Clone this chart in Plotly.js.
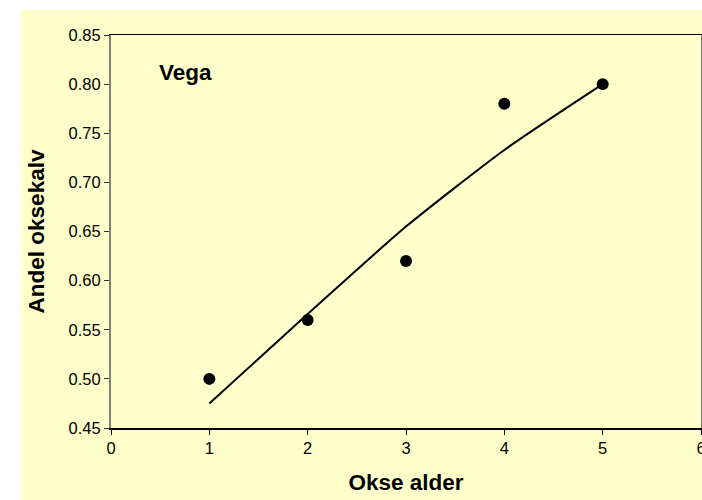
<!DOCTYPE html>
<html>
<head>
<meta charset="utf-8">
<script src="https://cdn.plot.ly/plotly-3.0.1.min.js"></script>
<style>html,body{margin:0;padding:0;background:#fff;}#chart{width:702px;height:500px;}</style>
</head>
<body>
<div id="chart"></div>
<script>
// Observed data points
const okseAlder = [1, 2, 3, 4, 5];
const andelOksekalv = [0.50, 0.56, 0.62, 0.78, 0.80];
// Trend line
const trendX = [1, 2, 3, 4, 5];
const trendY = [0.475, 0.566, 0.655, 0.733, 0.800];
const xTicks = [0, 1, 2, 3, 4, 5, 6];
const yTicks = [0.45, 0.50, 0.55, 0.60, 0.65, 0.70, 0.75, 0.80, 0.85];

const FONT = 'Liberation Sans, Arial, Helvetica, sans-serif';
const YELLOW = '#FFFFCC';

const traces = [
  {
    x: trendX, y: trendY, type: 'scatter', mode: 'lines',
    line: {color: '#000', width: 2, shape: 'spline', smoothing: 0.6},
    hoverinfo: 'skip', showlegend: false
  },
  {
    x: okseAlder, y: andelOksekalv, type: 'scatter', mode: 'markers',
    marker: {color: '#000', size: 12, symbol: 'circle'},
    showlegend: false
  }
];

const L = 111, R = 701, T = 35, B = 428;
const pw = R - L, ph = B - T;

const layout = {
  width: 702, height: 500,
  margin: {l: L, r: 702 - R, t: T, b: 500 - B, pad: 0},
  paper_bgcolor: '#fff',
  plot_bgcolor: YELLOW,
  font: {family: FONT, color: '#000', size: 16},
  showlegend: false,
  xaxis: {
    range: [0, 6], tickvals: xTicks, ticktext: xTicks.map(String),
    showgrid: false, zeroline: false,
    showline: true, linecolor: '#000', linewidth: 1.5, mirror: true,
    ticks: 'outside', ticklen: 5, tickcolor: '#000', tickwidth: 1,
    ticklabeloverflow: 'allow',
    tickfont: {family: FONT, size: 16.5, color: '#000'},
    title: {text: '<b>Okse alder</b>', font: {family: FONT, size: 22.5, color: '#000'}, standoff: 18},
    automargin: false
  },
  yaxis: {
    range: [0.45, 0.85], tickvals: yTicks, ticktext: yTicks.map(v => v.toFixed(2)),
    showgrid: false, zeroline: false,
    showline: true, linecolor: '#808080', linewidth: 2, mirror: true,
    ticks: 'outside', ticklen: 5, tickcolor: '#333', tickwidth: 1,
    ticklabeloverflow: 'allow',
    tickfont: {family: FONT, size: 16.5, color: '#000'},
    title: {text: '<b>Andel oksekalv</b>', font: {family: FONT, size: 22.5, color: '#000'}, standoff: 18},
    automargin: false
  },
  shapes: [
    {
      type: 'rect', xref: 'paper', yref: 'paper', layer: 'below',
      x0: (21 - L) / pw, x1: (702 - L) / pw,
      y0: (B - 500) / ph, y1: (B - 10) / ph,
      fillcolor: YELLOW, line: {width: 0}
    }
  ],
  annotations: [
    {
      text: '<b>Vega</b>', x: 0.47, y: 0.812, xref: 'x', yref: 'y',
      xanchor: 'left', yanchor: 'middle', showarrow: false,
      font: {family: FONT, size: 22.5, color: '#000'}
    }
  ]
};

Plotly.newPlot('chart', traces, layout, {displayModeBar: false, staticPlot: true});
</script>
</body>
</html>
